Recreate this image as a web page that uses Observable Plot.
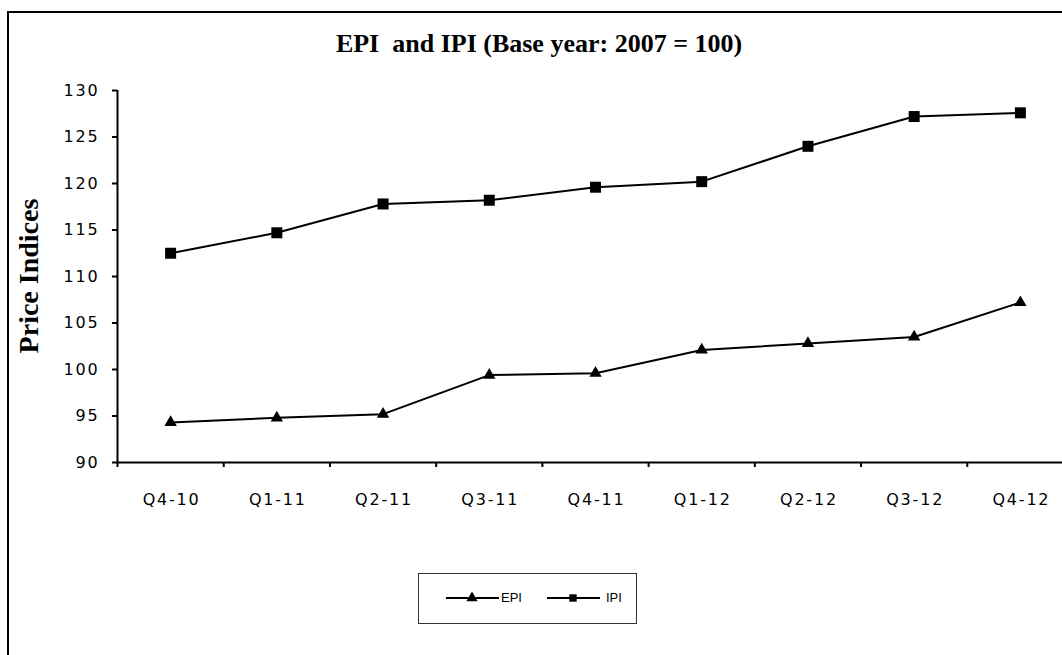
<!DOCTYPE html>
<html>
<head>
<meta charset="utf-8">
<script src="https://cdn.jsdelivr.net/npm/d3@7"></script>
<script src="https://cdn.jsdelivr.net/npm/@observablehq/plot@0.6"></script>
<style>
  html, body { margin: 0; padding: 0; background: #fff; overflow: hidden; }
  #wrap { position: relative; width: 1062px; height: 655px; overflow: hidden; background: #fff; }
  #frame { position: absolute; left: 7px; top: 11px; width: 2000px; height: 2000px; border: 2px solid #000; box-sizing: border-box; }
  #title { position: absolute; left: 0; top: 31px; width: 1078px; text-align: center; white-space: pre;
           font-family: "Liberation Serif", "Times New Roman", serif; font-weight: bold; font-size: 26px; line-height: 26px; color: #000; }
  #chart { position: absolute; left: 0; top: 0; width: 1080px; height: 520px; }
  #chart svg { max-width: none !important; }
  #ylab { position: absolute; left: 0; top: 0; }
  #legend { position: absolute; left: 418px; top: 573px; width: 219px; height: 51px; border: 1.5px solid #333; box-sizing: border-box; background: #fff; }
  .lg { position: absolute; font-family: "Liberation Sans", Arial, sans-serif; font-size: 13px; color: #000; }
</style>
</head>
<body>
<div id="wrap">
  <div id="frame"></div>
  <div id="title"></div>
  <div id="chart"></div>
  <svg id="ylab" width="80" height="655"></svg>
  <div id="legend"></div>
</div>
<script>
const quarters = ["Q4-10", "Q1-11", "Q2-11", "Q3-11", "Q4-11", "Q1-12", "Q2-12", "Q3-12", "Q4-12"];
const epi = [94.3, 94.8, 95.2, 99.4, 99.6, 102.1, 102.8, 103.5, 107.2];
const ipi = [112.5, 114.7, 117.8, 118.2, 119.6, 120.2, 124.0, 127.2, 127.6];
const yTicks = [90, 95, 100, 105, 110, 115, 120, 125, 130];
const seriesNames = ["EPI", "IPI"];
const titleText = "EPI  and IPI (Base year: 2007 = 100)";
const yLabel = "Price Indices";

document.getElementById("title").textContent = titleText;

const data = quarters.flatMap((q, i) => [
  {series: "EPI", q, xi: i + 0.5, v: epi[i]},
  {series: "IPI", q, xi: i + 0.5, v: ipi[i]}
]);
const centers = quarters.map((q, i) => i + 0.5);
const bounds = d3.range(0, quarters.length + 1);

const chart = Plot.plot({
  width: 1080,
  height: 520,
  marginLeft: 117,
  marginRight: 7,
  marginTop: 90,
  marginBottom: 58,
  x: {type: "linear", domain: [0, quarters.length]},
  y: {domain: [90, 130]},
  style: {fontFamily: "'DejaVu Sans', Verdana, sans-serif", fontSize: "16px", color: "#000", background: "transparent", overflow: "visible", letterSpacing: "1.8px", maxWidth: "none"},
  marks: [
    Plot.axisY({ticks: yTicks, tickSize: 5, tickPadding: 13, strokeWidth: 2, label: null, fill: "#000"}),
    Plot.axisX({ticks: bounds, tickSize: 5, tickFormat: () => "", strokeWidth: 2, label: null}),
    Plot.axisX({ticks: centers, tickSize: 0, tickPadding: 31, dx: 1, tickFormat: d => quarters[Math.round(d - 0.5)], label: null, fill: "#000"}),
    Plot.ruleX([0], {stroke: "#000", strokeWidth: 2}),
    Plot.ruleY([90], {stroke: "#000", strokeWidth: 2}),
    Plot.line(data, {x: "xi", y: "v", z: "series", stroke: "#000", strokeWidth: 2}),
    Plot.dot(data.filter(d => d.series === "IPI"), {x: "xi", y: "v", symbol: "square", r: 6.2, fill: "#000", stroke: null}),
    Plot.dot(data.filter(d => d.series === "EPI"), {x: "xi", y: "v", symbol: "triangle", r: 4.6, fill: "#000", stroke: null})
  ]
});
chart.style.maxWidth = "none";
chart.style.width = "1080px";
chart.style.height = "520px";
document.getElementById("chart").appendChild(chart);

// y-axis title
const ns = "http://www.w3.org/2000/svg";
const yl = document.createElementNS(ns, "text");
yl.setAttribute("transform", "translate(38,276) rotate(-90)");
yl.setAttribute("text-anchor", "middle");
yl.setAttribute("font-family", "'Liberation Serif', 'Times New Roman', serif");
yl.setAttribute("font-weight", "bold");
yl.setAttribute("font-size", "28");
yl.setAttribute("fill", "#000");
yl.textContent = yLabel;
document.getElementById("ylab").appendChild(yl);

// legend
const legend = document.getElementById("legend");
const items = [
  {name: seriesNames[0], symbol: d3.symbolTriangle, lineX: 27, textX: 82},
  {name: seriesNames[1], symbol: d3.symbolSquare, lineX: 128, textX: 187}
];
items.forEach(it => {
  const svg = d3.create("svg").attr("width", 54).attr("height", 20)
    .style("position", "absolute").style("left", it.lineX + "px").style("top", "14px");
  svg.append("line").attr("x1", 0).attr("x2", 53).attr("y1", 10).attr("y2", 10).attr("stroke", "#000").attr("stroke-width", 2);
  svg.append("path").attr("d", d3.symbol(it.symbol, 55)()).attr("transform", "translate(26,10)").attr("fill", "#000");
  legend.appendChild(svg.node());
  const t = document.createElement("div");
  t.className = "lg";
  t.textContent = it.name;
  t.style.left = it.textX + "px";
  t.style.top = "16px";
  legend.appendChild(t);
});
</script>
</body>
</html>
